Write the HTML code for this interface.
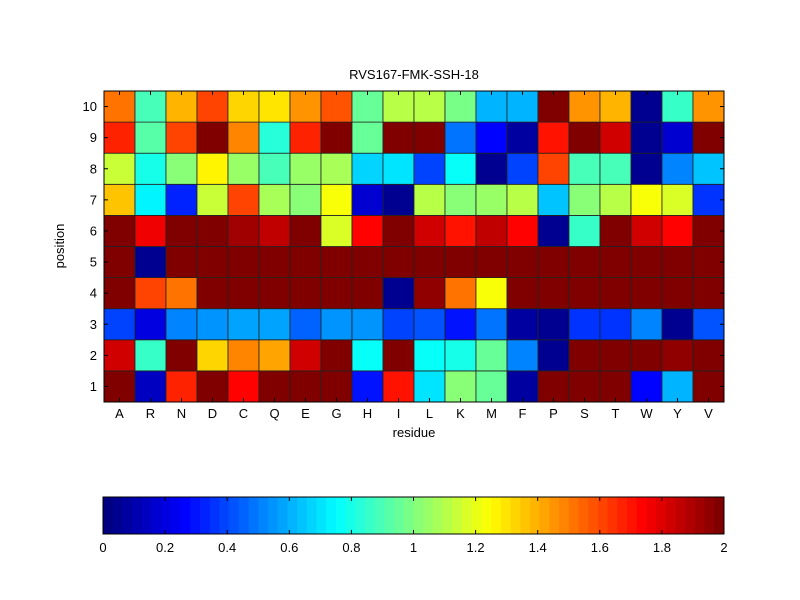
<!DOCTYPE html>
<html><head><meta charset="utf-8"><style>
html,body{margin:0;padding:0;background:#fff;}
svg{display:block;font-family:"Liberation Sans",Arial,sans-serif;}
</style></head><body>
<svg id="chart" width="800" height="600" viewBox="0 0 800 600">
<rect width="800" height="600" fill="#fff"/>
<text x="414" y="79" font-size="13" text-anchor="middle">RVS167-FMK-SSH-18</text>
<g id="cells"></g>
<g id="axes"></g>
<g id="cbar"></g>
<text x="414" y="437" font-size="13" text-anchor="middle">residue</text>
<text x="64" y="246" font-size="13" text-anchor="middle" transform="rotate(-90 64 246)">position</text>
</svg>
<script>
const residues = ["A","R","N","D","C","Q","E","G","H","I","L","K","M","F","P","S","T","W","Y","V"];
const positions = [1,2,3,4,5,6,7,8,9,10];
// values[row] for position 1..10
const pos1  = [2.0,0.14,1.68,2.0,1.73,2.0,2.0,2.0,0.3,1.7,0.7,1.0,0.95,0.08,2.0,2.0,2.0,0.28,0.6,2.0];
const pos2  = [1.84,0.85,2.0,1.33,1.47,1.42,1.82,2.0,0.75,2.0,0.75,0.8,0.95,0.5,0.05,1.97,1.97,1.97,1.96,1.98];
const pos3  = [0.38,0.2,0.5,0.55,0.58,0.58,0.45,0.56,0.54,0.4,0.42,0.3,0.48,0.08,0.05,0.35,0.36,0.5,0.06,0.42];
const pos4  = [2.0,1.62,1.5,2.0,2.0,2.0,2.0,2.0,2.0,0.05,1.95,1.5,1.24,2.0,2.0,2.0,2.0,2.0,2.0,2.0];
const pos5  = [2.0,0.05,2.0,2.0,2.0,2.0,2.0,2.0,2.0,2.0,2.0,2.0,2.0,2.0,2.0,2.0,2.0,2.0,2.0,2.0];
const pos6  = [2.0,1.75,2.0,2.0,1.92,1.87,1.98,1.18,1.74,2.0,1.82,1.7,1.87,1.73,0.05,0.85,2.0,1.82,1.74,2.0];
const pos7  = [1.35,0.72,0.32,1.15,1.6,1.08,1.03,1.22,0.18,0.05,1.12,1.02,1.05,1.1,0.65,1.0,1.12,1.23,1.18,0.35];
const pos8  = [1.15,0.8,1.02,1.28,1.06,0.88,1.05,1.07,0.67,0.7,0.4,0.78,0.05,0.4,1.6,0.88,0.88,0.05,0.5,0.65];
const pos9  = [1.68,0.92,1.62,2.0,1.47,0.82,1.66,2.0,0.95,2.0,2.0,0.48,0.28,0.08,1.7,2.0,1.82,0.06,0.16,2.0];
const pos10 = [1.5,0.88,1.38,1.6,1.33,1.3,1.45,1.58,0.95,1.1,1.12,0.97,0.62,0.62,2.0,1.45,1.38,0.05,0.85,1.45];
const rows = [pos1,pos2,pos3,pos4,pos5,pos6,pos7,pos8,pos9,pos10];
const cTicks = [0,0.2,0.4,0.6,0.8,1,1.2,1.4,1.6,1.8,2];
const cTickLabels = ["0","0.2","0.4","0.6","0.8","1","1.2","1.4","1.6","1.8","2"];
const vmin = 0, vmax = 2;

const NS="http://www.w3.org/2000/svg";
const L=104, R=724, T=91, B=402;
const cw=(R-L)/residues.length, ch=(B-T)/positions.length;
function xOf(i){return L+i*cw;}
function yOf(p){return B-p*ch;} // p = row index
function jet(v){
  let t=Math.max(0,Math.min(1,(v-vmin)/(vmax-vmin)));
  t=Math.min(63,Math.floor(t*64))/63;
  const f=x=>Math.max(0,Math.min(1,x));
  const r=f(Math.min(4*t-1.5,-4*t+4.5)), g=f(Math.min(4*t-0.5,-4*t+3.5)), b=f(Math.min(4*t+0.5,-4*t+2.5));
  return `rgb(${Math.round(r*255)},${Math.round(g*255)},${Math.round(b*255)})`;
}
function mk(tag,attrs,parent){const e=document.createElementNS(NS,tag);for(const k in attrs)e.setAttribute(k,attrs[k]);parent.appendChild(e);return e;}
const cells=document.getElementById('cells');
rows.forEach((row,ri)=>{
  row.forEach((v,ci)=>{
    const r=mk('rect',{x:xOf(ci),y:yOf(ri+1),width:cw,height:ch,fill:jet(v),stroke:'#222','stroke-width':0.8},cells);
    
    
  });
});
const axes=document.getElementById('axes');
mk('rect',{x:L,y:T,width:R-L,height:B-T,fill:'none',stroke:'#000','stroke-width':1},axes);
residues.forEach((lab,i)=>{
  const x=xOf(i)+cw/2;
  mk('line',{x1:x,y1:B,x2:x,y2:B-4,stroke:'#000'},axes);
  mk('line',{x1:x,y1:T,x2:x,y2:T+4,stroke:'#000'},axes);
  const t=mk('text',{x:x,y:B+16,'font-size':13,'text-anchor':'middle'},axes);
  t.textContent=lab;
  
  
});
positions.forEach((p,i)=>{
  const y=yOf(i)-ch/2;
  mk('line',{x1:L,y1:y,x2:L+4,y2:y,stroke:'#000'},axes);
  mk('line',{x1:R,y1:y,x2:R-4,y2:y,stroke:'#000'},axes);
  const t=mk('text',{x:L-7,y:y+4.5,'font-size':13,'text-anchor':'end'},axes);
  t.textContent=p;
  
  
});
const cb=document.getElementById('cbar');
const CL=103, CR=724, CT=497, CB=534;
for(let k=0;k<64;k++){
  const w=(CR-CL)/64;
  const r=mk('rect',{x:CL+k*w,y:CT,width:w+0.5,height:CB-CT,fill:jet(vmin+(k+0.5)/64*(vmax-vmin))},cb);
  
  
}
mk('rect',{x:CL,y:CT,width:CR-CL,height:CB-CT,fill:'none',stroke:'#000','stroke-width':1},cb);
cTicks.forEach((v,i)=>{
  const x=CL+(v-vmin)/(vmax-vmin)*(CR-CL);
  mk('line',{x1:x,y1:CT,x2:x,y2:CT+4,stroke:'#000'},cb);
  mk('line',{x1:x,y1:CB,x2:x,y2:CB-4,stroke:'#000'},cb);
  const t=mk('text',{x:x,y:CB+18,'font-size':13,'text-anchor':'middle'},cb);
  t.textContent=cTickLabels[i];
  
  
});
</script>
</body></html>
